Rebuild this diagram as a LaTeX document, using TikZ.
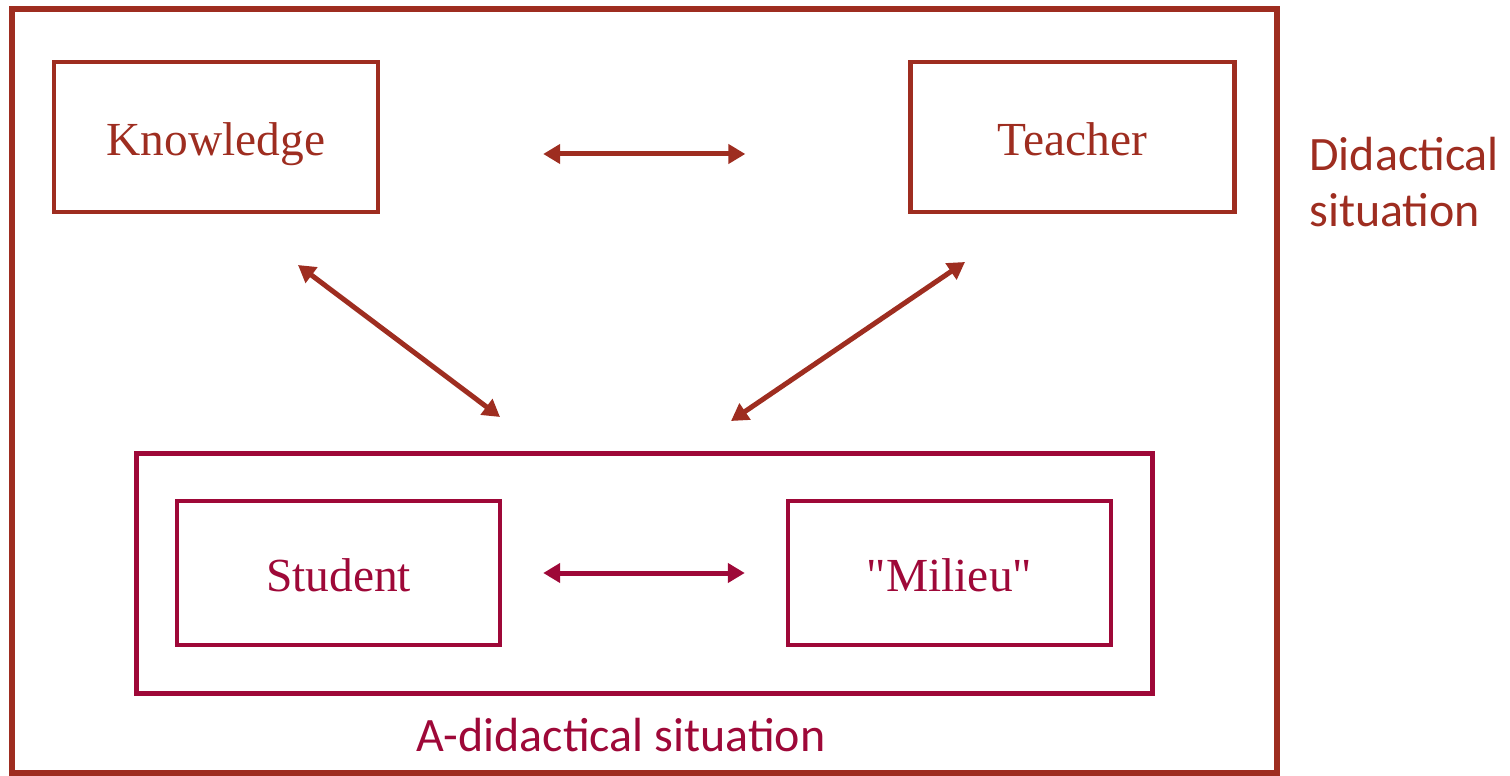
\documentclass[tikz,border=0pt]{standalone}
\usepackage{fontspec}
\setmainfont{Liberation Serif}
\newfontfamily\lblfont{Carlito}
\usepackage{tikz}
\usetikzlibrary{arrows.meta,positioning}
\definecolor{RustRed}{RGB}{158,45,32}
\definecolor{Crimson}{RGB}{158,8,56}

\begin{document}
\begin{tikzpicture}[
  x=0.02cm,y=-0.02cm,
  box/.style={rectangle,draw=RustRed,line width=0.09cm,text=RustRed,minimum width=6.48cm,minimum height=3.0cm,text height=21pt,text depth=0pt,font=\fontsize{27}{32}\selectfont},
  sbox/.style={box,draw=Crimson,text=Crimson,minimum width=6.46cm,minimum height=2.88cm},
  frame/.style={rectangle,line width=0.12cm,inner sep=0pt},
  lbl/.style={font=\lblfont\fontsize{27.3}{32}\selectfont,inner sep=0pt},
  arr/.style={{Triangle[length=0.34cm,width=0.38cm]}-{Triangle[length=0.34cm,width=0.38cm]},line width=0.1cm,draw=RustRed},
  sarr/.style={arr,draw=Crimson}
]
\useasboundingbox (0,0) rectangle (1510,776);
\node[frame,draw=RustRed,minimum width=25.3cm,minimum height=15.28cm] (didact) at (644.5,391) {};
\node[frame,draw=Crimson,line width=0.1cm,minimum width=20.32cm,minimum height=4.8cm] (adidact) at (644.5,573.5) {};
\node[box] (know) at (216,137) {Knowledge};
\node[box] (teach) at (1072.5,137) {Teacher};
\node[sbox] (student) at (338.5,573) {Student};
\node[sbox] (milieu) at (949.5,573) {\textquotedbl Milieu\textquotedbl};
\node[lbl,text=RustRed,anchor=west,align=left] (dlbl) at (1309,182) {Didactical\\situation};
\node[lbl,text=Crimson] (albl) at (621,735) {A-didactical situation};
\coordinate (k1) at (298,265);
\coordinate (k2) at (500,417);
\coordinate (t1) at (965,262);
\coordinate (t2) at (731,421);
\draw[arr,shorten <=3.26cm,shorten >=3.26cm] ([yshift=-0.34cm]know.east) -- ([yshift=-0.34cm]teach.west);
\draw[arr] (k1) -- (k2);
\draw[arr] (t1) -- (t2);
\draw[sarr,shorten <=0.82cm,shorten >=0.82cm] (student) -- (milieu);
\end{tikzpicture}
\end{document}
